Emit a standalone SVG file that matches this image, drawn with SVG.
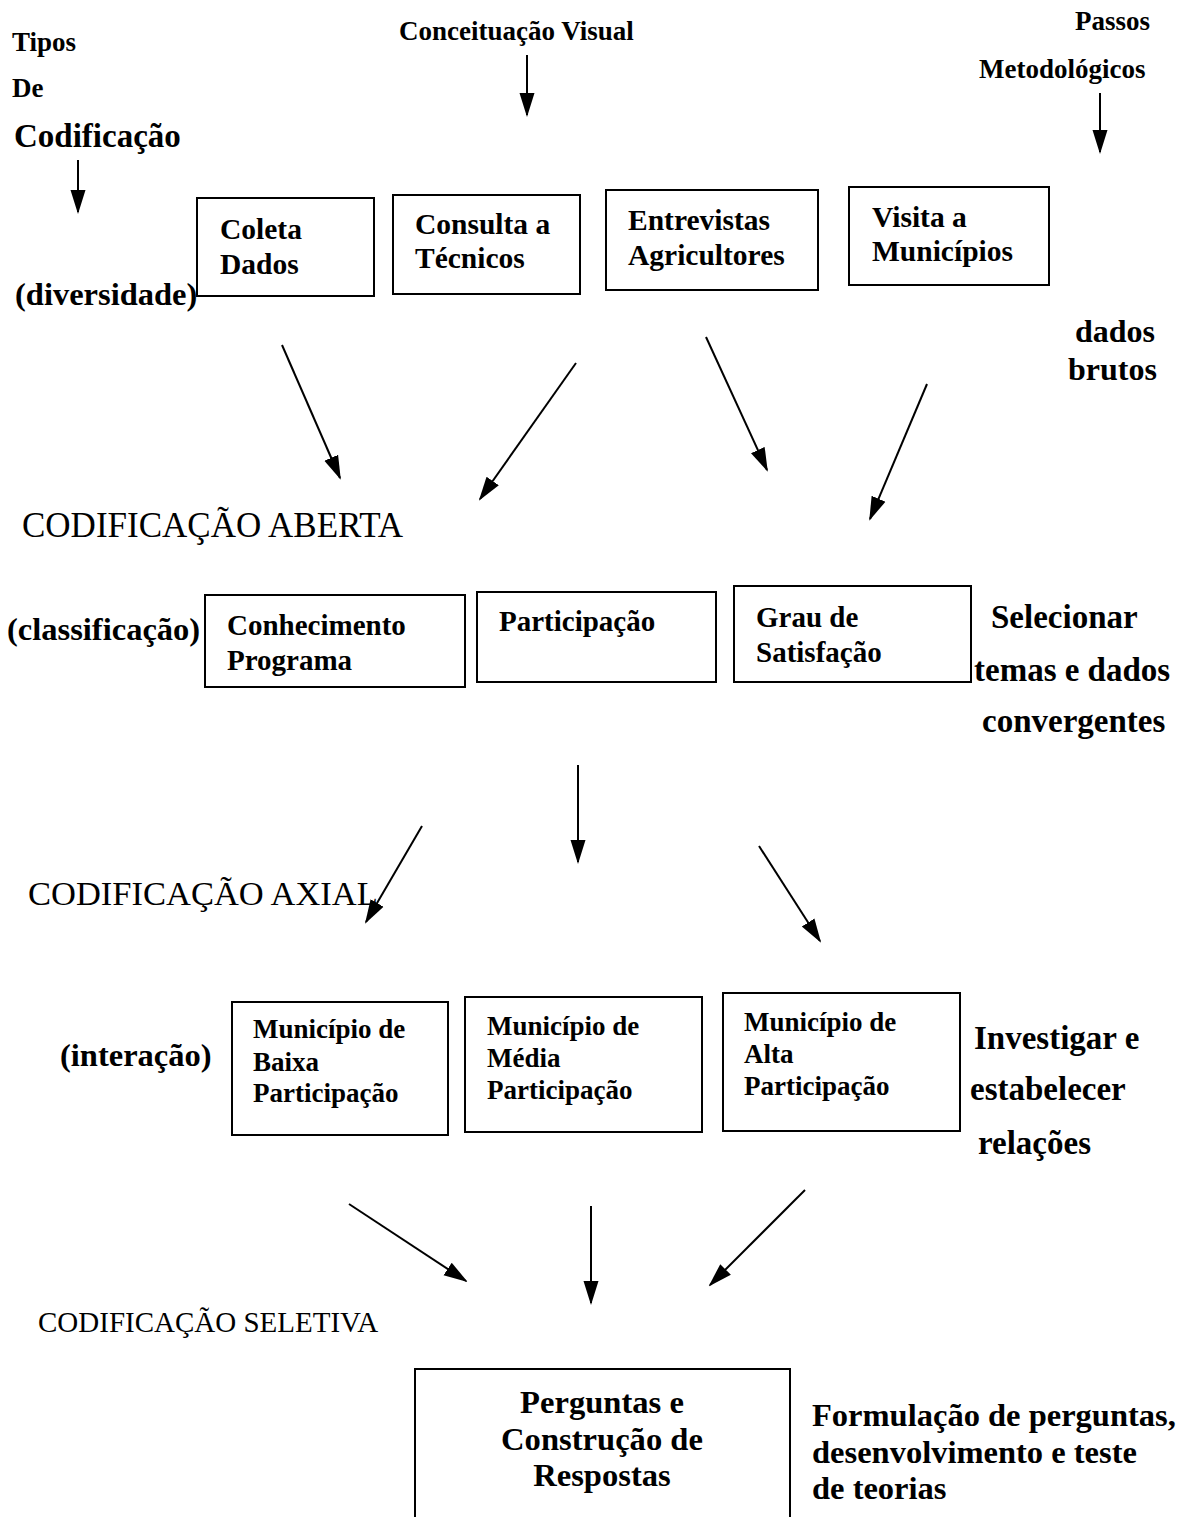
<svg xmlns="http://www.w3.org/2000/svg" width="1187" height="1517" viewBox="0 0 1187 1517">
<style>
text{font-family:"Liberation Serif","Times New Roman",serif;fill:#000}
.b{font-weight:bold}
.box{fill:#fff;stroke:#000;stroke-width:2}
.c{fill:none;stroke:#000;stroke-width:2}
</style>
<defs>
<marker id="ah" markerUnits="userSpaceOnUse" markerWidth="24" markerHeight="20" viewBox="0 0 24 20" refX="22" refY="10" orient="auto">
<path d="M0,2.5 L24,10 L0,17.5 Z" fill="#000"/>
</marker>
</defs>
<rect width="1187" height="1517" fill="#fff"/>
<g id="labels">
<text class="b" x="12" y="51" font-size="27">Tipos</text>
<text class="b" x="12" y="97" font-size="27">De</text>
<text class="b" x="14" y="147" font-size="33">Codificação</text>
<text class="b" x="399" y="40" font-size="27">Conceituação Visual</text>
<text class="b" x="1075" y="30" font-size="27">Passos</text>
<text class="b" x="979" y="78" font-size="27">Metodológicos</text>
<text class="b" x="15" y="305" font-size="32.5">(diversidade)</text>
<text class="b" x="1075" y="342" font-size="32">dados</text>
<text class="b" x="1068" y="380" font-size="32">brutos</text>
<text x="22" y="537" font-size="35">CODIFICAÇÃO ABERTA</text>
<text class="b" x="7" y="640" font-size="32.5">(classificação)</text>
<text class="b" x="991" y="628" font-size="33">Selecionar</text>
<text class="b" x="974" y="681" font-size="33">temas e dados</text>
<text class="b" x="982" y="732" font-size="33">convergentes</text>
<text x="28" y="905" font-size="34.5">CODIFICAÇÃO AXIAL</text>
<text class="b" x="60" y="1066" font-size="32.5">(interação)</text>
<text class="b" x="974" y="1049" font-size="33">Investigar e</text>
<text class="b" x="970" y="1100" font-size="33">estabelecer</text>
<text class="b" x="978" y="1154" font-size="33">relações</text>
<text x="38" y="1332" font-size="29">CODIFICAÇÃO SELETIVA</text>
<text class="b" x="812" y="1426" font-size="32.5">Formulação de perguntas,</text>
<text class="b" x="812" y="1463" font-size="32.5">desenvolvimento e teste</text>
<text class="b" x="812" y="1499" font-size="32.5">de teorias</text>
</g>
<g id="connectors">
<line class="c" x1="78" y1="160" x2="78" y2="212" marker-end="url(#ah)"/>
<line class="c" x1="527" y1="55" x2="527" y2="115" marker-end="url(#ah)"/>
<line class="c" x1="1100" y1="93" x2="1100" y2="152" marker-end="url(#ah)"/>
<line class="c" x1="282" y1="345" x2="340" y2="478" marker-end="url(#ah)"/>
<line class="c" x1="576" y1="363" x2="480" y2="499" marker-end="url(#ah)"/>
<line class="c" x1="706" y1="337" x2="767" y2="470" marker-end="url(#ah)"/>
<line class="c" x1="927" y1="384" x2="870" y2="519" marker-end="url(#ah)"/>
<line class="c" x1="422" y1="826" x2="366" y2="922" marker-end="url(#ah)"/>
<line class="c" x1="578" y1="765" x2="578" y2="862" marker-end="url(#ah)"/>
<line class="c" x1="759" y1="846" x2="820" y2="941" marker-end="url(#ah)"/>
<line class="c" x1="349" y1="1204" x2="466" y2="1281" marker-end="url(#ah)"/>
<line class="c" x1="591" y1="1206" x2="591" y2="1303" marker-end="url(#ah)"/>
<line class="c" x1="805" y1="1190" x2="710" y2="1285" marker-end="url(#ah)"/>
</g>
<g id="n-coleta">
<rect class="box" x="197" y="198" width="177" height="98"/>
<text class="b" x="220" y="239" font-size="29.5">Coleta</text>
<text class="b" x="220" y="274" font-size="29.5">Dados</text>
</g>
<g id="n-consulta">
<rect class="box" x="393" y="195" width="187" height="99"/>
<text class="b" x="415" y="234" font-size="29.5">Consulta a</text>
<text class="b" x="415" y="268" font-size="29.5">Técnicos</text>
</g>
<g id="n-entrevistas">
<rect class="box" x="606" y="190" width="212" height="100"/>
<text class="b" x="628" y="230" font-size="29.5">Entrevistas</text>
<text class="b" x="628" y="265" font-size="29.5">Agricultores</text>
</g>
<g id="n-visita">
<rect class="box" x="849" y="187" width="200" height="98"/>
<text class="b" x="872" y="227" font-size="29.5">Visita a</text>
<text class="b" x="872" y="261" font-size="29.5">Municípios</text>
</g>
<g id="n-conhecimento">
<rect class="box" x="205" y="595" width="260" height="92"/>
<text class="b" x="227" y="635" font-size="29">Conhecimento</text>
<text class="b" x="227" y="670" font-size="29">Programa</text>
</g>
<g id="n-participacao">
<rect class="box" x="477" y="592" width="239" height="90"/>
<text class="b" x="499" y="631" font-size="29">Participação</text>
</g>
<g id="n-grau">
<rect class="box" x="734" y="586" width="237" height="96"/>
<text class="b" x="756" y="627" font-size="29">Grau de</text>
<text class="b" x="756" y="662" font-size="29">Satisfação</text>
</g>
<g id="n-baixa">
<rect class="box" x="232" y="1002" width="216" height="133"/>
<text class="b" x="253" y="1038" font-size="27">Município de</text>
<text class="b" x="253" y="1071" font-size="27">Baixa</text>
<text class="b" x="253" y="1102" font-size="27">Participação</text>
</g>
<g id="n-media">
<rect class="box" x="465" y="997" width="237" height="135"/>
<text class="b" x="487" y="1035" font-size="27">Município de</text>
<text class="b" x="487" y="1067" font-size="27">Média</text>
<text class="b" x="487" y="1099" font-size="27">Participação</text>
</g>
<g id="n-alta">
<rect class="box" x="723" y="993" width="237" height="138"/>
<text class="b" x="744" y="1031" font-size="27">Município de</text>
<text class="b" x="744" y="1063" font-size="27">Alta</text>
<text class="b" x="744" y="1095" font-size="27">Participação</text>
</g>
<g id="n-perguntas">
<rect class="box" x="415" y="1369" width="375" height="150"/>
<text class="b" x="602" y="1413" font-size="32.6" text-anchor="middle">Perguntas e</text>
<text class="b" x="602" y="1450" font-size="32.6" text-anchor="middle">Construção de</text>
<text class="b" x="602" y="1486" font-size="32.6" text-anchor="middle">Respostas</text>
</g>
</svg>
